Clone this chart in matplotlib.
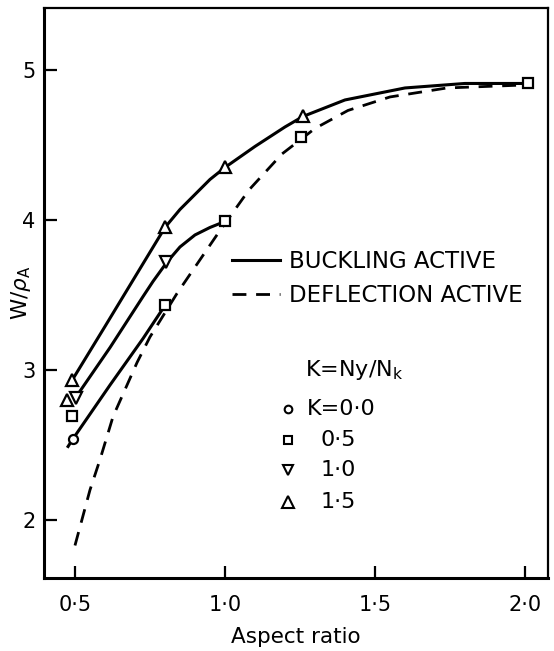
import matplotlib
matplotlib.use('Agg')
import matplotlib.pyplot as plt

# curves (aspect ratio, W/rho_A)
buck_k15_x = [0.49, 0.60, 0.70, 0.80, 0.85, 0.90, 0.95, 1.0, 1.10, 1.20, 1.26, 1.40, 1.60, 1.80, 2.0]
buck_k15_y = [2.93, 3.29, 3.62, 3.95, 4.07, 4.17, 4.27, 4.35, 4.49, 4.62, 4.69, 4.80, 4.88, 4.91, 4.91]
buck_k10_x = [0.50, 0.617, 0.727, 0.76, 0.807, 0.85, 0.90, 0.95, 1.0]
buck_k10_y = [2.81, 3.15, 3.49, 3.59, 3.72, 3.82, 3.90, 3.95, 3.99]
buck_k00_x = [0.477, 0.493, 0.617, 0.727, 0.80]
buck_k00_y = [2.49, 2.54, 2.90, 3.21, 3.43]
defl_x = [0.50, 0.55, 0.583, 0.627, 0.707, 0.75, 0.84, 0.98, 1.08, 1.19, 1.30, 1.41, 1.55, 1.74, 2.0]
defl_y = [1.83, 2.20, 2.40, 2.69, 3.05, 3.22, 3.51, 3.92, 4.20, 4.44, 4.61, 4.73, 4.82, 4.88, 4.90]

# measured points
k00_x = [0.495]
k00_y = [2.54]
k05_x = [0.49, 0.80, 1.0, 1.255, 2.01]
k05_y = [2.69, 3.43, 3.99, 4.55, 4.91]
k10_x = [0.503, 0.805]
k10_y = [2.81, 3.72]
k15_x = [0.49, 0.475, 0.80, 1.0, 1.26]
k15_y = [2.93, 2.80, 3.95, 4.35, 4.69]

xticks = [0.5, 1.0, 1.5, 2.0]
xticklabels = ['0\u00b75', '1\u00b70', '1\u00b75', '2\u00b70']
yticks = [2, 3, 4, 5]

key_markers = ['o', 's', 'v', '^']
key_labels = ['K=0\u00b70', '0\u00b75', '1\u00b70', '1\u00b75']
key_sizes = [5.5, 6, 7.5, 8]

fig = plt.figure(figsize=(5.54, 6.51), dpi=100)
ax = fig.add_axes([0.0794, 0.1121, 0.9097, 0.8756])

lw = 2.2
solid, = ax.plot(buck_k15_x, buck_k15_y, '-', color='black', lw=lw, label='BUCKLING ACTIVE')
ax.plot(buck_k10_x, buck_k10_y, '-', color='black', lw=lw)
ax.plot(buck_k00_x, buck_k00_y, '-', color='black', lw=lw)
dashed, = ax.plot(defl_x, defl_y, color='black', lw=2.0, ls=(0, (5, 3.5)), label='DEFLECTION ACTIVE')

mk = dict(ls='none', mfc='white', mec='black', mew=1.6, zorder=5)
ax.plot(k00_x, k00_y, marker='o', ms=6.5, **mk)
ax.plot(k05_x, k05_y, marker='s', ms=7, **mk)
ax.plot(k10_x, k10_y, marker='v', ms=8.5, **mk)
ax.plot(k15_x, k15_y, marker='^', ms=9, **mk)

ax.set_xlim(0.3967, 2.0767)
ax.set_ylim(1.613, 5.413)
ax.set_xticks(xticks)
ax.set_xticklabels(xticklabels)
ax.set_yticks(yticks)
ax.tick_params(direction='in', length=9, width=1.6, labelsize=15)
ax.tick_params(axis='x', pad=12)
ax.tick_params(axis='y', pad=6)
for s in ax.spines.values():
    s.set_linewidth(1.6)
ax.spines['left'].set_linewidth(2.2)
ax.spines['bottom'].set_linewidth(2.2)

ax.set_xlabel('Aspect ratio', fontsize=15.5, labelpad=9)
ax.set_ylabel(r'W/$\rho_\mathrm{A}$', fontsize=15.5)
ax.yaxis.set_label_coords(-0.022, 0.5)

ax.legend(handles=[solid, dashed], loc='center left', bbox_to_anchor=(0.373, 0.5255),
          frameon=False, fontsize=16.5, handlelength=2.1, handletextpad=0.4,
          labelspacing=0.45, borderpad=0, borderaxespad=0)

# K key
ax.text(0.518, 0.365, r'K=Ny/N$_\mathrm{k}$', transform=ax.transAxes, fontsize=16,
        ha='left', va='center')
key_y = [0.2965, 0.242, 0.1895, 0.133]
for m, lab, ms, yy in zip(key_markers, key_labels, key_sizes, key_y):
    ax.plot([0.484], [yy], marker=m, ms=ms, ls='none', mfc='white', mec='black',
            mew=1.5, transform=ax.transAxes, clip_on=False)
    xx = 0.522 if lab.startswith('K') else 0.548
    ax.text(xx, yy, lab, transform=ax.transAxes, fontsize=16, ha='left', va='center')

fig.savefig('out.png', dpi=100)
